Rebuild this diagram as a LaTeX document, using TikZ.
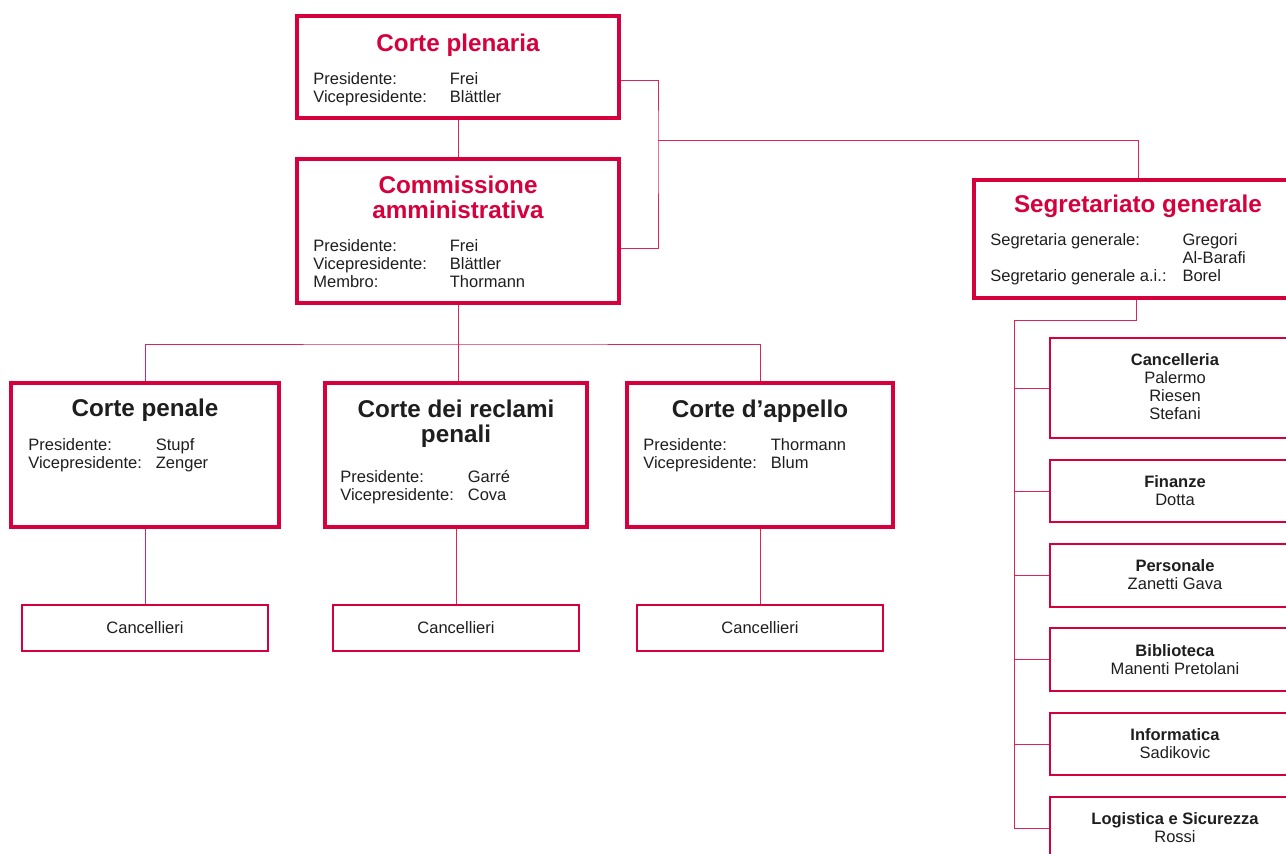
\documentclass[tikz,border=0pt]{standalone}
\usepackage{fontspec}
\setmainfont{Liberation Sans}
\usepackage{xcolor}
\usetikzlibrary{positioning,calc}
\definecolor{crimson}{RGB}{213,0,60}
\definecolor{ink}{RGB}{30,30,30}
\newcommand\members[2]{\begin{tabular}[t]{@{}p{#1}@{}l@{}}#2\end{tabular}}
\newcommand\stack[1]{\begin{tabular}[t]{@{}c@{}}#1\end{tabular}}

\begin{document}
\begin{tikzpicture}[x=0.02cm,y=-0.02cm,
    bigbox/.style={draw=crimson, line width=1.9pt, inner sep=0},
    smallbox/.style={draw=crimson, line width=0.8pt, inner sep=0},
    link/.style={draw=crimson!85, line width=0.55pt},
    redtitle/.style={font=\fontsize{13.8}{13.6}\selectfont\bfseries, text=crimson, anchor=base, inner sep=0},
    blacktitle/.style={redtitle, text=ink},
    info/.style={font=\fontsize{9.4}{10.4}\selectfont, text=ink, anchor=base west, inner sep=0},
    unit/.style={info, anchor=base}]
  \useasboundingbox (0,0) rectangle (1286,853);

  % vertice
  \node[bigbox, minimum width=6.44cm, minimum height=2.04cm] (plen) at (458,67) {};
  \node[redtitle] (plenT) at (458,51) {Corte plenaria};
  \node[info] (plenI) at (313,84) {\members{77.7pt}{Presidente: & Frei\\Vicepresidente: & Blättler}};

  \node[bigbox, minimum width=6.44cm, minimum height=2.88cm] (comm) at (458,231) {};
  \node[redtitle] (commT) at (458,193.5) {\stack{Commissione\\amministrativa}};
  \node[info] (commI) at (313,251) {\members{77.7pt}{Presidente: & Frei\\Vicepresidente: & Blättler\\Membro: & Thormann}};

  \node[bigbox, minimum width=6.56cm, minimum height=2.36cm] (seg) at (1138,239) {};
  \node[redtitle] (segT) at (1138,212) {Segretariato generale};
  \node[info] (segI) at (990,245) {\members{109.4pt}{Segretaria generale: & Gregori\\ & Al-Barafi\\Segretario generale a.i.: & Borel}};

  % corti
  \node[bigbox, minimum width=5.36cm, minimum height=2.88cm] (pen) at (145,455) {};
  \node[blacktitle] (penT) at (145,416.5) {Corte penale};
  \node[info] (penI) at (28,450) {\members{72.6pt}{Presidente: & Stupf\\Vicepresidente: & Zenger}};

  \node[bigbox, minimum width=5.24cm, minimum height=2.88cm] (rec) at (456,455) {};
  \node[blacktitle] (recT) at (456,417.5) {\stack{Corte dei reclami\\penali}};
  \node[info] (recI) at (340,482) {\members{72.6pt}{Presidente: & Garré\\Vicepresidente: & Cova}};

  \node[bigbox, minimum width=5.32cm, minimum height=2.88cm] (app) at (760,455) {};
  \node[blacktitle] (appT) at (760,417) {Corte d’appello};
  \node[info] (appI) at (643,450) {\members{72.6pt}{Presidente: & Thormann\\Vicepresidente: & Blum}};

  \node[smallbox, minimum width=4.92cm, minimum height=0.92cm] (cpen) at (145,628) {};
  \node[smallbox, minimum width=4.92cm, minimum height=0.92cm] (crec) at (456,628) {};
  \node[smallbox, minimum width=4.92cm, minimum height=0.92cm] (capp) at (760,628) {};
  \node[unit] (cpenT) at (145,633) {Cancellieri};
  \node[unit] (crecT) at (456,633) {Cancellieri};
  \node[unit] (cappT) at (760,633) {Cancellieri};

  % servizi
  \node[smallbox, minimum width=5cm, minimum height=2cm] (canc) at (1175,388) {};
  \node[smallbox, minimum width=5cm, minimum height=1.24cm] (fin) at (1175,491) {};
  \node[smallbox, minimum width=5cm, minimum height=1.26cm] (pers) at (1175,575.5) {};
  \node[smallbox, minimum width=5cm, minimum height=1.26cm] (bib) at (1175,659.5) {};
  \node[smallbox, minimum width=5cm, minimum height=1.24cm] (inf) at (1175,744) {};
  \node[smallbox, minimum width=5cm, minimum height=1.26cm] (log) at (1175,828.5) {};
  \node[unit] (cancT) at (1175,365) {\stack{\textbf{Cancelleria}\\Palermo\\Riesen\\Stefani}};
  \node[unit] (finT) at (1175,487) {\stack{\textbf{Finanze}\\Dotta}};
  \node[unit] (persT) at (1175,571) {\stack{\textbf{Personale}\\Zanetti Gava}};
  \node[unit] (bibT) at (1175,656) {\stack{\textbf{Biblioteca}\\Manenti Pretolani}};
  \node[unit] (infT) at (1175,740) {\stack{\textbf{Informatica}\\Sadikovic}};
  \node[unit] (logT) at (1175,824) {\stack{\textbf{Logistica e Sicurezza}\\Rossi}};

  % collegamenti
  \coordinate (bus1) at (658,140);
  \coordinate (bus2) at (458,344);
  \coordinate (bus3) at (1014,320);
  \draw[link] (plen) -- (comm);
  \draw[link] ($(plen.east)+(0,13)$) -| (bus1) |- ($(comm.east)+(0,17)$);
  \draw[link] (bus1) -| (seg);
  \draw[link] (comm.south -| bus2) -- (bus2);
  \draw[link] (pen) |- (bus2) -| (app);
  \draw[link] (bus2) -- (bus2 |- rec.north);
  \draw[link] (pen) -- (cpen);
  \draw[link] (rec) -- (crec);
  \draw[link] (app) -- (capp);
  \draw[link] (seg.south -| 1136,0) |- (bus3) -- (bus3 |- log.west);
  \foreach \b in {canc,fin,pers,bib,inf,log}
    \draw[link] (bus3 |- \b.west) -- (\b.west);
\end{tikzpicture}
\end{document}
